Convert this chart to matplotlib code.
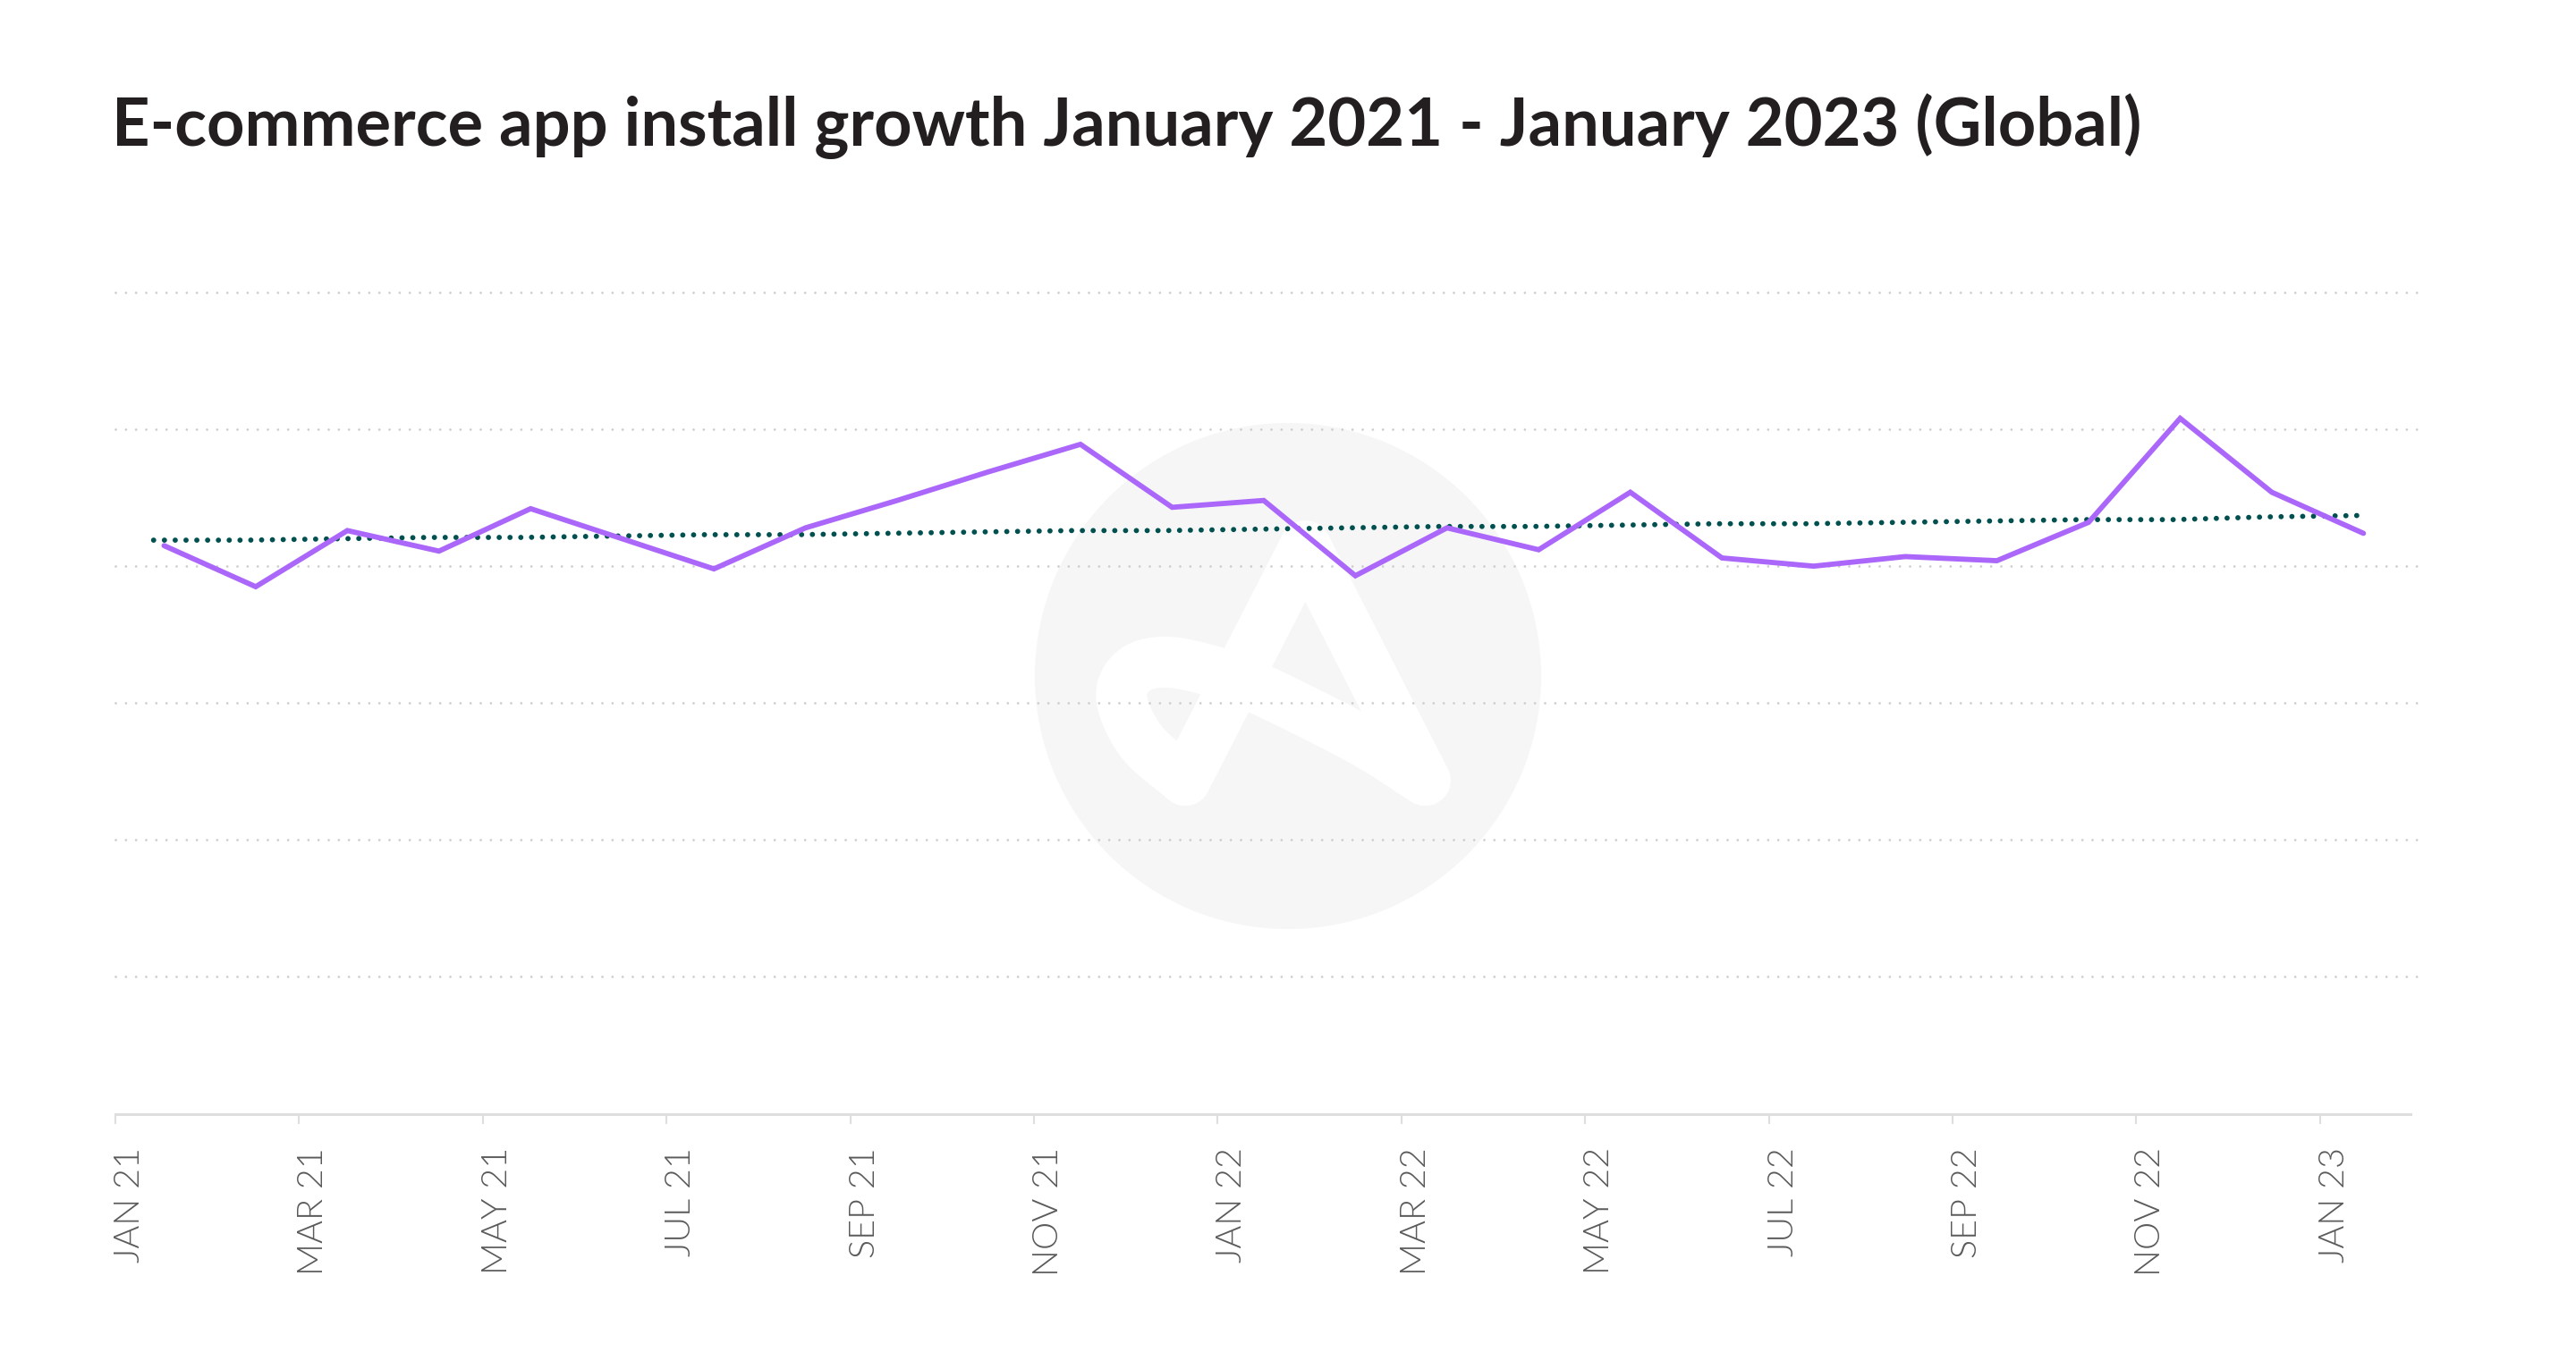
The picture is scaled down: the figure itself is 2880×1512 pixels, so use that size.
import numpy as np
import matplotlib
matplotlib.use("Agg")
import matplotlib.pyplot as plt
from matplotlib.patches import Circle, PathPatch
from matplotlib.path import Path
from matplotlib.transforms import Affine2D, ScaledTranslation

W, H = 2880, 1512
TITLE = "E-commerce app install growth January 2021 - January 2023 (Global)"
months = ["JAN 21","FEB 21","MAR 21","APR 21","MAY 21","JUN 21","JUL 21","AUG 21","SEP 21","OCT 21","NOV 21","DEC 21",
          "JAN 22","FEB 22","MAR 22","APR 22","MAY 22","JUN 22","JUL 22","AUG 22","SEP 22","OCT 22","NOV 22","DEC 22","JAN 23"]
installs = [4.15,3.85,4.26,4.11,4.42,4.20,3.98,4.28,4.48,4.69,4.89,4.43,4.48,3.93,4.28,4.12,4.54,4.06,4.00,4.07,4.04,4.32,5.08,4.54,4.24]
trend = [4.19,4.19,4.20,4.21,4.21,4.22,4.23,4.23,4.24,4.25,4.26,4.26,4.27,4.28,4.29,4.29,4.30,4.31,4.31,4.32,4.33,4.34,4.34,4.36,4.37]
grid_levels = [1,2,3,4,5,6]

plt.rcParams['font.family'] = ['Lato', 'DejaVu Sans']
fig = plt.figure(figsize=(W/100, H/100), dpi=100, facecolor='white')
L, R, TOP, BOT = 129, 2695, 327, 1245.5
ax = fig.add_axes([L/W, 1-BOT/H, (R-L)/W, (BOT-TOP)/H])
ax.set_facecolor('none')
ax.set_xlim(0, 24.985)
ax.set_ylim(0, 6)

# watermark in pixel coordinates, underneath the chart marks
pix = Affine2D().scale(1, -1).translate(0, H)
ax.add_patch(Circle((1440, 756), 283, transform=pix, facecolor='#f6f6f6', edgecolor='none', zorder=0, clip_on=False))

def z(x, y):
    return (1100 + x/2.24, 440 + y/2.45)

def catmull(pts, n=14):
    p = np.array(pts, float)
    p = np.vstack([2*p[0]-p[1], p, 2*p[-1]-p[-2]])
    out = []
    for i in range(1, len(p)-2):
        for t in np.linspace(0, 1, n, endpoint=False):
            out.append(0.5*((2*p[i]) + (-p[i-1]+p[i+1])*t + (2*p[i-1]-5*p[i]+4*p[i+1]-p[i+2])*t*t + (-p[i-1]+3*p[i]-3*p[i+1]+p[i+2])*t**3))
    out.append(p[-2])
    return np.array(out)

legs = [z(504, 1060), z(805, 418), z(1105, 1060)]
curve = catmull([z(*q) for q in [(1105,1060),(945,950),(700,815),(575,762),(455,736),(375,760),(345,835),(395,955),(504,1060)]])
for pts in (np.array(legs), curve):
    ax.add_patch(PathPatch(Path(pts), transform=pix, facecolor='none', edgecolor='white',
                           lw=57*0.72, capstyle='round', joinstyle='round', zorder=0.5, clip_on=False))

idx = np.arange(len(months))
for g in grid_levels:
    ax.plot([0, 25.08], [g, g], color='#cdcdcd', lw=2.0, linestyle=(0, (0.01, 4.07)),
            dash_capstyle='round', zorder=1, clip_on=False)
ax.plot(idx + 0.416, trend, color='#00504f', lw=4.2, linestyle=(0, (0.01, 2.06)), dash_capstyle='round', zorder=3)
ax.plot(idx*0.9976 + 0.53, installs, color='#ab66fa', lw=4.2, solid_capstyle='round', solid_joinstyle='miter', zorder=4)

for s in ('top', 'left', 'right'):
    ax.spines[s].set_visible(False)
ax.spines['bottom'].set_color('#dedede')
ax.spines['bottom'].set_linewidth(2.2)
ax.set_yticks([])
ax.set_xticks(np.arange(0, 25, 2))
ax.set_xticklabels(months[::2], rotation=90, fontsize=28.5, color='#5a5a5a', fontweight=300)
ax.tick_params(axis='x', length=8, width=1.5, color='#dedede', labelcolor='#5a5a5a', pad=19)
off = ScaledTranslation(16/100, 0, fig.dpi_scale_trans)
for lab in ax.get_xticklabels():
    lab.set_transform(lab.get_transform() + off)

fig.text(125/W, 1-163/H, TITLE, fontsize=53.3, fontweight='bold', color='#231f20', ha='left', va='baseline')
fig.savefig('out.png', dpi=100)
